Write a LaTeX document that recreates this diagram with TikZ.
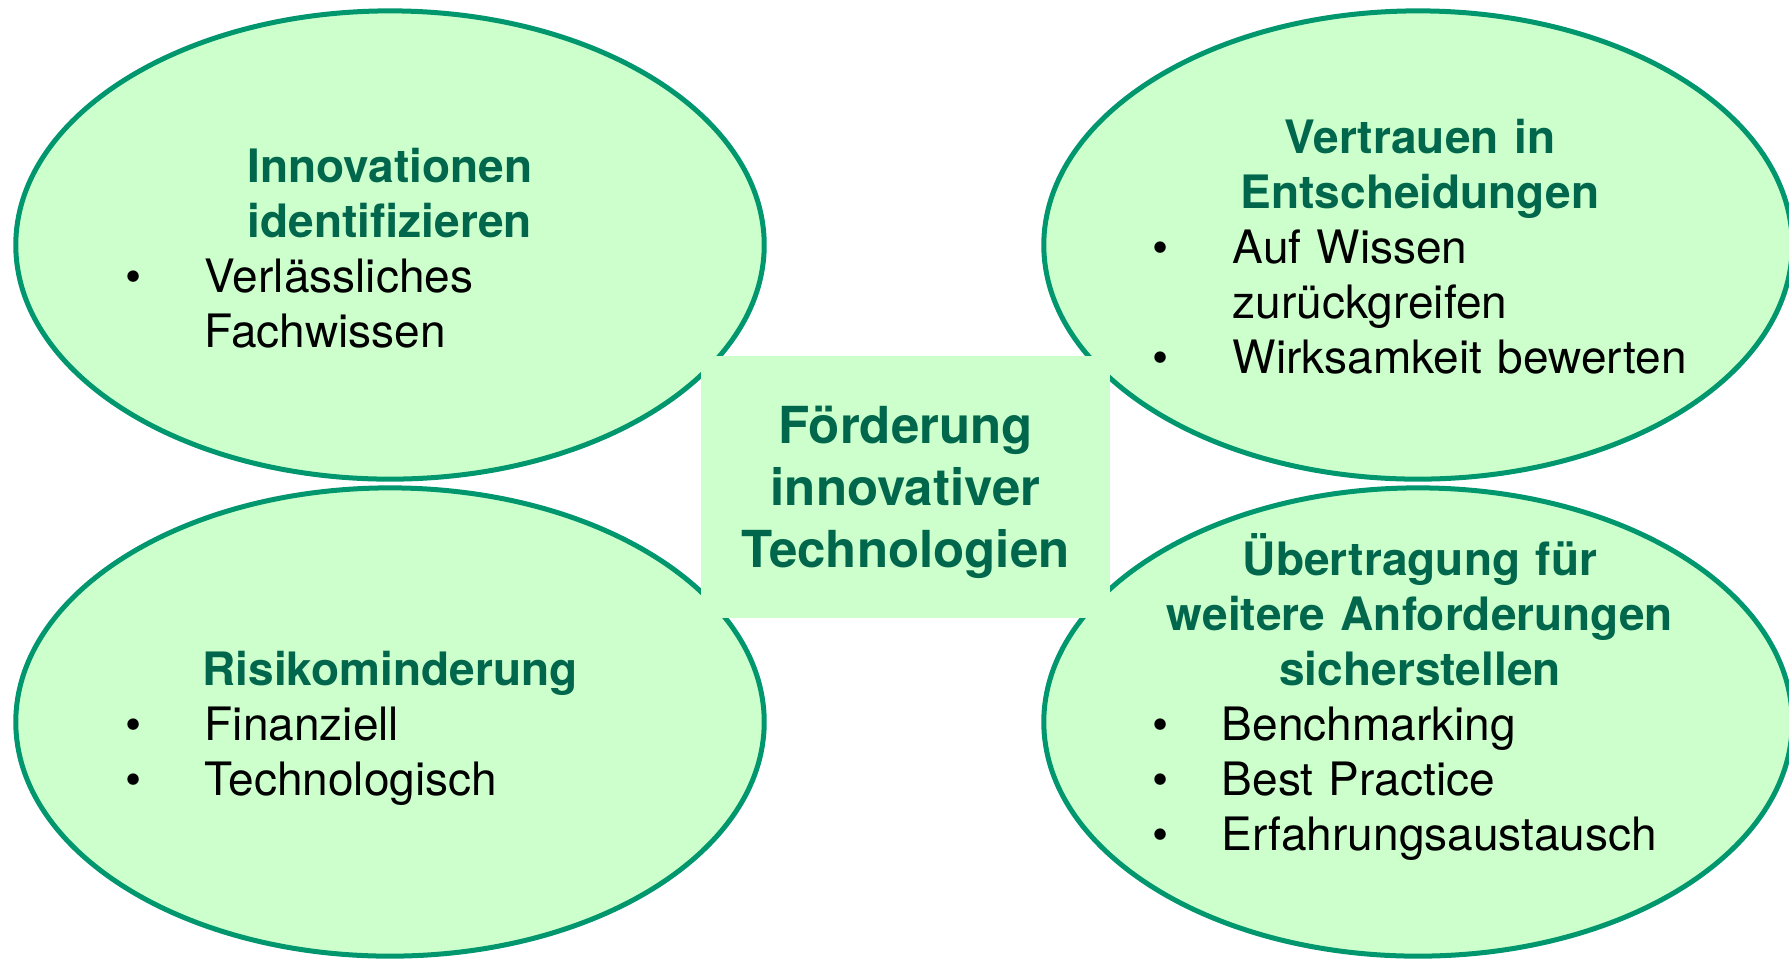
\documentclass[tikz,border=0pt]{standalone}
\usepackage{fontspec}
\setmainfont{TeX Gyre Heros}
\usetikzlibrary{shapes.geometric}
\definecolor{rimgreen}{RGB}{0,150,110}
\definecolor{palegreen}{RGB}{204,255,204}
\definecolor{headgreen}{RGB}{0,102,76}
\tikzstyle{field} = [ellipse, draw=rimgreen, line width=0.05cm, fill=palegreen, minimum width=7.48cm, minimum height=4.68cm, inner sep=0pt]
\tikzstyle{hub} = [rectangle, fill=palegreen, minimum width=4.09cm, minimum height=2.62cm, inner sep=0pt]
\tikzstyle{hubtext} = [anchor=base, text width=4cm, align=center, text=headgreen, inner sep=0pt, font=\fontsize{14.51pt}{17.64pt}\selectfont\bfseries]
\tikzstyle{heading} = [anchor=base, text width=6cm, align=center, text=headgreen, inner sep=0pt, font=\fontsize{13.09pt}{15.65pt}\selectfont\bfseries]
\tikzstyle{item} = [anchor=base west, text width=5.5cm, align=left, inner sep=0pt, font=\fontsize{13.09pt}{15.65pt}\selectfont]
\tikzstyle{dot} = [anchor=base, inner sep=0pt, font=\fontsize{13.09pt}{15.65pt}\selectfont]

\begin{document}
\begin{tikzpicture}[x=0.01cm, y=-0.01cm]
    \useasboundingbox (0,0) rectangle (1789,960);
    \clip (0,0) rectangle (1789,960);

    \node [field] at (390,245) (innov) {};
    \node [field] at (1418,245) (trust) {};
    \node [field] at (390,722) (risk) {};
    \node [field] at (1418,722) (transfer) {};
    \node [hub] at (905.5,487) (hub) {};
    \node [hubtext] at (905.5,443) (hubhead) {Förderung\\innovativer\\Technologien};

    % oben links
    \node [heading] at (390,182) (innovhead) {Innovationen\\identifizieren};
    \node [dot] at (134,292) (innovdot1) {\textbullet};
    \node [item] at (204,292) (innovtext) {Verlässliches\\Fachwissen};

    % oben rechts
    \node [heading] at (1420,153) (trusthead) {Vertrauen in\\Entscheidungen};
    \node [dot] at (1161,263) (trustdot1) {\textbullet};
    \node [dot] at (1161,373) (trustdot2) {\textbullet};
    \node [item] at (1232,263) (trusttext) {Auf Wissen\\zurückgreifen\\Wirksamkeit bewerten};

    % unten links
    \node [heading] at (390,685) (riskhead) {Risikominderung};
    \node [dot] at (134,740) (riskdot1) {\textbullet};
    \node [dot] at (134,795) (riskdot2) {\textbullet};
    \node [item] at (204,740) (risktext) {Finanziell\\Technologisch};

    % unten rechts
    \node [heading] at (1420,575) (transferhead) {Übertragung für\\weitere Anforderungen\\sicherstellen};
    \node [dot] at (1161,740) (transferdot1) {\textbullet};
    \node [dot] at (1161,795) (transferdot2) {\textbullet};
    \node [dot] at (1161,850) (transferdot3) {\textbullet};
    \node [item] at (1221,740) (transfertext) {Benchmarking\\Best Practice\\Erfahrungsaustausch};
\end{tikzpicture}
\end{document}
